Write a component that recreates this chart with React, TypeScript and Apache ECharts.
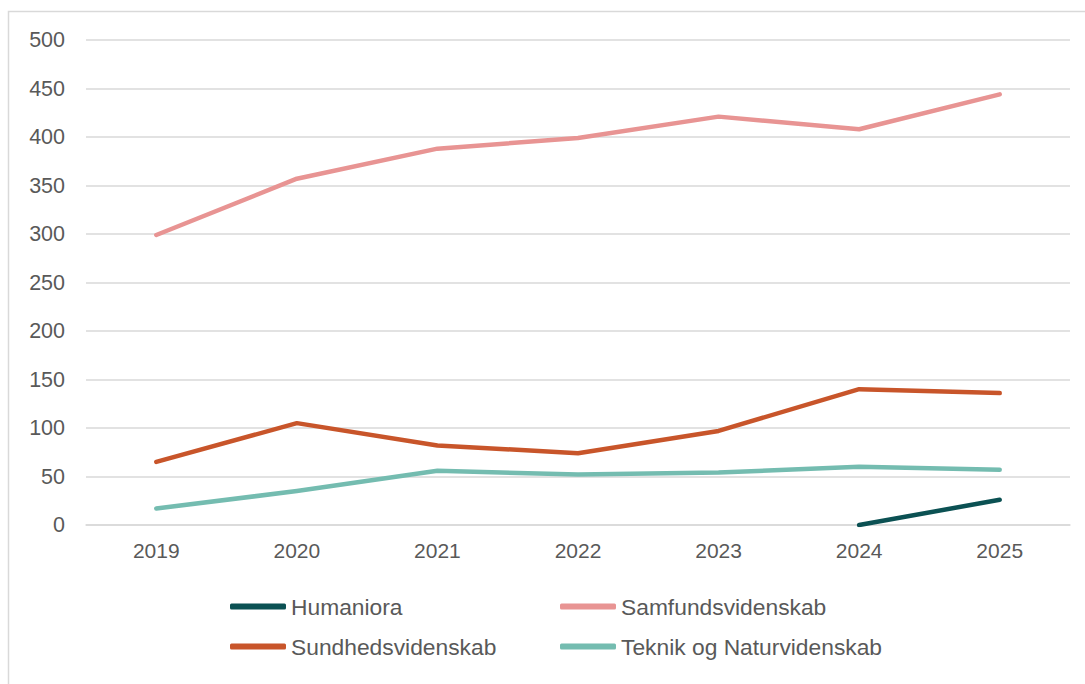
import React, { useEffect, useRef } from "react";
import * as echarts from "echarts";

const years = ["2019", "2020", "2021", "2022", "2023", "2024", "2025"];
const humaniora = [null, null, null, null, null, 0, 26];
const samfund = [299, 357, 388, 399, 421, 408, 444];
const sundhed = [65, 105, 82, 74, 97, 140, 136];
const teknik = [17, 35, 56, 52, 54, 60, 57];

const FONT = "'Liberation Sans', Arial, sans-serif";
const TXT = "#595959";

export default function App() {
  const ref = useRef<HTMLDivElement>(null);
  useEffect(() => {
    const chart = echarts.init(ref.current!, undefined, { renderer: "svg" });
    const line = (name: string, data: any[], color: string) => ({
      name,
      type: "line",
      data,
      symbol: "none",
      smooth: false,
      connectNulls: false,
      lineStyle: { color, width: 4.5, cap: "round", join: "round" },
      itemStyle: { color },
    });
    const legendCommon = {
      orient: "vertical",
      top: 590,
      itemWidth: 56,
      itemHeight: 6,
      itemGap: 17,
      icon: "roundRect",
      textStyle: { color: TXT, fontSize: 22.8, fontFamily: FONT },
    };
    chart.setOption({
      animation: false,
      backgroundColor: "#ffffff",
      grid: { left: 86, right: 15, top: 40, bottom: 159, containLabel: false },
      xAxis: {
        type: "category",
        data: years,
        boundaryGap: true,
        axisLine: { lineStyle: { color: "#d9d9d9", width: 1.5 } },
        axisTick: { show: false },
        axisLabel: { color: TXT, fontSize: 21, fontFamily: FONT, margin: 15 },
      },
      yAxis: {
        type: "value",
        min: 0,
        max: 500,
        interval: 50,
        axisLine: { show: false },
        axisTick: { show: false },
        splitLine: { lineStyle: { color: "#d9d9d9", width: 1.5 } },
        axisLabel: {
          color: TXT,
          fontSize: 21.5,
          fontFamily: FONT,
          margin: 21,
          padding: [0, 0, 8, 0],
        },
      },
      legend: [
        { ...legendCommon, left: 225, data: ["Humaniora", "Sundhedsvidenskab"] },
        { ...legendCommon, left: 555, data: ["Samfundsvidenskab", "Teknik og Naturvidenskab"] },
      ],
      graphic: [
        {
          type: "rect",
          silent: true,
          shape: { x: 8.5, y: 11.5, width: 1200, height: 800 },
          style: { fill: "none", stroke: "#d9d9d9", lineWidth: 1.5 },
        },
      ],
      series: [
        line("Humaniora", humaniora, "#0b5153"),
        line("Samfundsvidenskab", samfund, "#e89493"),
        line("Sundhedsvidenskab", sundhed, "#c8552a"),
        line("Teknik og Naturvidenskab", teknik, "#74bcb0"),
      ],
    });
    return () => chart.dispose();
  }, []);
  return (
    <div
      ref={ref}
      style={{ position: "absolute", left: 0, top: 0, width: 1085, height: 684 }}
    />
  );
}
